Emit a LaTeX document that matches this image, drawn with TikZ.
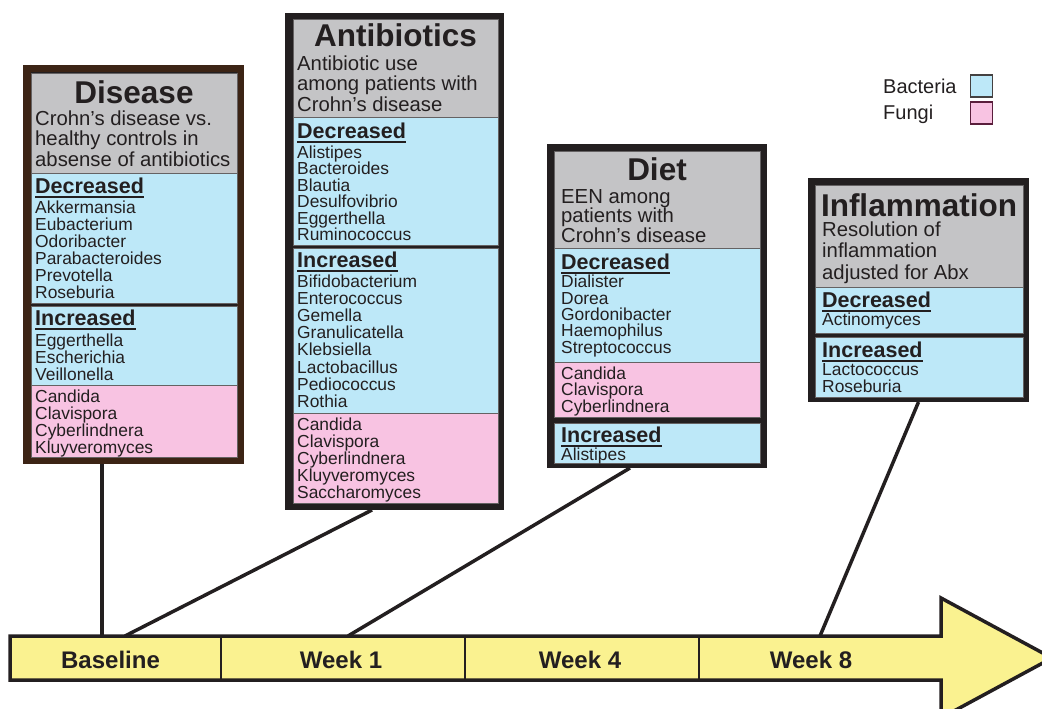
\documentclass[tikz,border=0pt]{standalone}
\usepackage{fontspec}
\setmainfont{Liberation Sans}
\usetikzlibrary{positioning}
\usetikzlibrary{calc}
\definecolor{ink}{HTML}{231F20}
\definecolor{frameb}{HTML}{3C2415}
\definecolor{bact}{HTML}{BDE8F8}
\definecolor{fungi}{HTML}{F8C3E2}
\definecolor{headg}{HTML}{C4C4C6}
\definecolor{timebar}{HTML}{FAF290}
\definecolor{fungiedge}{HTML}{5A1E3C}
\newcommand{\uhead}[1]{\setbox0\hbox{#1}\rlap{\rule[-4.5pt]{\wd0}{1.8pt}}\box0}
\tikzset{frame/.style = {fill=ink, draw=ink, line width=7.5pt, inner sep=0}}
\tikzset{sec/.style = {draw=ink!70, line width=0.6pt}}
\tikzset{boxtitle/.style = {font=\fontsize{31.5}{32}\selectfont\bfseries, anchor=base, inner sep=0}}
% multi-line nodes sit on the baseline of their last line
\tikzset{boxsub/.style = {font=\fontsize{20.3}{20.5}\selectfont, align=left, anchor=base west, inner sep=0}}
\tikzset{listhead/.style = {font=\fontsize{21.5}{22}\selectfont\bfseries, anchor=base west, inner sep=0}}
\tikzset{listitems/.style = {font=\fontsize{17.4}{17}\selectfont, align=left, anchor=base west, inner sep=0}}
\tikzset{link/.style = {draw=ink, line width=3.5pt}}
\tikzset{seg/.style = {minimum width=#1, minimum height=44pt, inner sep=0, outer sep=0}}
\tikzset{weeklbl/.style = {font=\fontsize{24}{24}\selectfont\bfseries, inner sep=0}}
\tikzset{keylbl/.style = {font=\fontsize{20}{20}\selectfont, anchor=base west, inner sep=0}}
\tikzset{swatch/.style = {minimum width=22pt, minimum height=22pt, inner sep=0, line width=1.5pt}}

\begin{document}
\begin{tikzpicture}[x=1pt, y=-1pt, every node/.style={text=ink}]
  \useasboundingbox (0,0) rectangle (1042,709);
  \clip (0,0) rectangle (1042,709);

  % timeline
  \draw [fill=timebar, draw=ink, line width=3.5pt, line join=miter]
    (10,636) -- (941,636) -- (941,598) -- (1052,658) -- (941,718) -- (941,680) -- (10,680) -- cycle;
  \node [seg=211pt, anchor=north west] (seg1) at (10,636) {};
  \node [seg=244pt, right=0pt of seg1] (seg2) {};
  \node [seg=234pt, right=0pt of seg2] (seg3) {};
  \node [seg=242pt, right=0pt of seg3] (seg4) {};
  \draw [ink, line width=1.5pt] (seg1.north east) -- (seg1.south east);
  \draw [ink, line width=1.5pt] (seg2.north east) -- (seg2.south east);
  \draw [ink, line width=1.5pt] (seg3.north east) -- (seg3.south east);
  \node [weeklbl] (baseline) at ($(seg1.center)+(-5,2)$) {Baseline};
  \node [weeklbl] (week1) at ($(seg2.center)+(-2,2)$) {Week 1};
  \node [weeklbl] (week4) at ($(seg3.center)+(-2,2)$) {Week 4};
  \node [weeklbl] (week8) at ($(seg4.center)+(-9,2)$) {Week 8};

  % disease
  \node [frame, draw=frameb, minimum width=213.5pt, minimum height=391.5pt] (disease) at (133.5,264.5) {};
  \draw [sec, fill=headg] (31,73) rectangle (237,173);
  \draw [sec, fill=bact] (31,173) rectangle (237,303);
  \draw [sec, fill=bact] (31,306) rectangle (237,385);
  \draw [sec, fill=fungi] (31,385) rectangle (237,457);
  \node [boxtitle] (dis-title) at (134,103) {Disease};
  \node [boxsub] (dis-sub) at (35,166) {Crohn’s disease vs.\\healthy controls in\\absense of antibiotics};
  \node [listhead] (dis-dec-h) at (35,193) {\uhead{Decreased}};
  \node [listitems] (dis-dec) at (35,298) {Akkermansia\\Eubacterium\\Odoribacter\\Parabacteroides\\Prevotella\\Roseburia};
  \node [listhead] (dis-inc-h) at (35,325) {\uhead{Increased}};
  \node [listitems] (dis-inc) at (35,380) {Eggerthella\\Escherichia\\Veillonella};
  \node [listitems] (dis-fun) at (35,453) {Candida\\Clavispora\\Cyberlindnera\\Kluyveromyces};

  % antibiotics
  \node [frame, minimum width=211.5pt, minimum height=489.5pt] (antibio) at (394.5,261.5) {};
  \draw [sec, fill=headg] (293,19) rectangle (498,117);
  \draw [sec, fill=bact] (293,117) rectangle (498,245);
  \draw [sec, fill=bact] (293,248) rectangle (498,413);
  \draw [sec, fill=fungi] (293,413) rectangle (498,503);
  \node [boxtitle] (abx-title) at (395.5,47) {Antibiotics};
  \node [boxsub] (abx-sub) at (297,111) {Antibiotic use\\among patients with\\Crohn’s disease};
  \node [listhead] (abx-dec-h) at (297,138) {\uhead{Decreased}};
  \node [listitems, font=\fontsize{17.4}{16.5}\selectfont] (abx-dec) at (297,240.5) {Alistipes\\Bacteroides\\Blautia\\Desulfovibrio\\Eggerthella\\Ruminococcus};
  \node [listhead] (abx-inc-h) at (297,267) {\uhead{Increased}};
  \node [listitems, font=\fontsize{17.4}{17.2}\selectfont] (abx-inc) at (297,407.5) {Bifidobacterium\\Enterococcus\\Gemella\\Granulicatella\\Klebsiella\\Lactobacillus\\Pediococcus\\Rothia};
  \node [listitems] (abx-fun) at (297,498) {Candida\\Clavispora\\Cyberlindnera\\Kluyveromyces\\Saccharomyces};

  % diet
  \node [frame, minimum width=212.5pt, minimum height=316.5pt] (diet) at (657,306) {};
  \draw [sec, fill=headg] (554,151) rectangle (760,248);
  \draw [sec, fill=bact] (554,248) rectangle (760,362);
  \draw [sec, fill=fungi] (554,362) rectangle (760,417);
  \draw [sec, fill=bact] (554,423) rectangle (760,463);
  \node [boxtitle] (diet-title) at (657,180) {Diet};
  \node [boxsub, font=\fontsize{20.3}{19.5}\selectfont] (diet-sub) at (561,242) {EEN among\\patients with\\Crohn’s disease};
  \node [listhead] (diet-dec-h) at (561,269) {\uhead{Decreased}};
  \node [listitems, font=\fontsize{17.4}{16.3}\selectfont] (diet-dec) at (561,353) {Dialister\\Dorea\\Gordonibacter\\Haemophilus\\Streptococcus};
  \node [listitems, font=\fontsize{17.4}{15.8}\selectfont] (diet-fun) at (561,412.5) {Candida\\Clavispora\\Cyberlindnera};
  \node [listhead] (diet-inc-h) at (561,442) {\uhead{Increased}};
  \node [listitems] (diet-inc) at (561,460) {Alistipes};

  % inflammation
  \node [frame, minimum width=213.5pt, minimum height=216.5pt] (inflam) at (918.5,290) {};
  \draw [sec, fill=headg] (815,185) rectangle (1023,287);
  \draw [sec, fill=bact] (815,287) rectangle (1023,333);
  \draw [sec, fill=bact] (815,337) rectangle (1023,397);
  \node [boxtitle] (inf-title) at (919,216) {Inflammation};
  \node [boxsub, font=\fontsize{20.3}{21.5}\selectfont] (inf-sub) at (822,279) {Resolution of\\inflammation\\adjusted for Abx};
  \node [listhead] (inf-dec-h) at (822,307) {\uhead{Decreased}};
  \node [listitems] (inf-dec) at (822,325) {Actinomyces};
  \node [listhead] (inf-inc-h) at (822,357) {\uhead{Increased}};
  \node [listitems] (inf-inc) at (822,392) {Lactococcus\\Roseburia};

  % connectors
  \draw [link] ($(disease.south)+(-31.5,0)$) -- ($(seg1.north west)+(92,0)$);
  \draw [link] ($(antibio.south)+(-22.5,0)$) -- ($(seg1.north west)+(115,0)$);
  \draw [link] ($(diet.south)+(-27,0)$) -- ($(seg2.north west)+(127,0)$);
  \draw [link] (inflam.south) -- ($(seg4.north west)+(121,0)$);

  % legend
  \node [keylbl] (bact-lbl) at (883,93) {Bacteria};
  \node [keylbl] (fungi-lbl) at (883,120) {Fungi};
  \node [swatch, fill=bact, draw=ink!85] (bact-key) at (981.5,86) {};
  \node [swatch, fill=fungi, draw=fungiedge] (fungi-key) at (981.5,113) {};
\end{tikzpicture}
\end{document}
